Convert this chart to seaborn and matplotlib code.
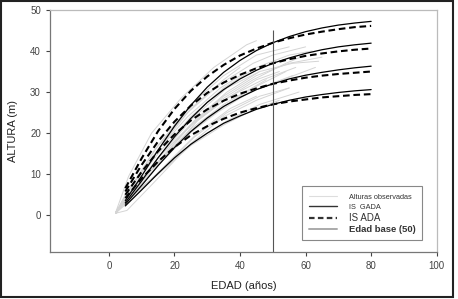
import numpy as np
import pandas as pd
import matplotlib
matplotlib.use("Agg")
import matplotlib.pyplot as plt
from matplotlib.lines import Line2D
from matplotlib.patches import Rectangle
import seaborn as sns

# Edades de las curvas de indice de sitio
edades = [5, 10, 15, 20, 25, 30, 35, 40, 45, 50, 55, 60, 65, 70, 75, 80]

# IS GADA (linea continua), indice de sitio 42, 37, 32, 27 a edad base 50
gada_42 = [3.6, 9.6, 15.9, 21.7, 26.8, 31.2, 34.8, 37.7, 40.1, 42.0, 43.5, 44.7, 45.6, 46.3, 46.8, 47.2]
gada_37 = [3.1, 8.4, 14.0, 19.1, 23.6, 27.5, 30.6, 33.2, 35.3, 37.0, 38.3, 39.4, 40.3, 41.0, 41.5, 41.9]
gada_32 = [2.7, 7.3, 12.1, 16.5, 20.4, 23.7, 26.5, 28.7, 30.6, 32.0, 33.2, 34.1, 34.8, 35.4, 35.9, 36.3]
gada_27 = [2.3, 6.2, 10.2, 14.0, 17.3, 20.0, 22.4, 24.2, 25.8, 27.0, 28.0, 28.8, 29.4, 29.9, 30.3, 30.6]

# IS ADA (linea discontinua)
ada_42 = [6.6, 13.9, 20.5, 25.9, 30.3, 33.8, 36.6, 38.9, 40.6, 42.0, 43.1, 44.0, 44.7, 45.3, 45.8, 46.1]
ada_37 = [5.8, 12.3, 18.0, 22.8, 26.7, 29.8, 32.3, 34.2, 35.8, 37.0, 38.0, 38.8, 39.4, 39.9, 40.3, 40.6]
ada_32 = [5.0, 10.6, 15.6, 19.7, 23.1, 25.8, 27.9, 29.6, 30.9, 32.0, 32.8, 33.5, 34.0, 34.4, 34.7, 35.0]
ada_27 = [4.2, 9.0, 13.1, 16.6, 19.5, 21.7, 23.5, 25.0, 26.1, 27.0, 27.7, 28.2, 28.7, 29.0, 29.3, 29.5]

# Alturas observadas (analisis de tallo): edad y altura por arbol
obs_edad = [
    [2, 6, 13, 22, 32, 42, 45],
    [2, 5.5, 13.5, 25, 35, 45, 55],
    [2, 6, 15, 25, 35, 45, 55, 62],
    [2, 6, 15, 25, 35, 45, 55, 65],
    [2, 7, 16, 26, 36, 46, 56],
    [2, 6, 14, 24, 34, 44, 54],
    [2, 6, 16, 26, 36, 46, 58],
    [2, 5, 15, 25, 35, 45, 52],
    [2, 6, 15, 25, 35, 40],
    [2, 6, 14, 24, 34, 44, 50, 60],
    [2, 5, 13, 23, 33, 43, 53, 63],
    [2, 7, 17, 27, 37, 47, 57],
    [2, 6, 16, 26, 36, 46],
    [2, 7, 17, 27, 37, 45],
    [2, 5, 14, 24, 34, 44, 54, 60],
    [2, 6, 15, 25, 35, 45, 55],
    [2, 6, 15, 25, 35, 48],
    [2, 7, 16, 26, 36, 46, 56, 64],
    [2, 5, 14, 24, 34, 42],
    [2, 6, 16, 26, 36, 46, 55],
    [2, 6, 15, 25, 35, 45, 52],
]
obs_altura = [
    [0.6, 9.5, 20.0, 28.5, 36.0, 41.5, 42.5],
    [0.5, 1.2, 7.8, 17.5, 24.0, 28.0, 31.0],
    [0.5, 5.5, 15.0, 24.0, 31.0, 36.0, 39.0, 40.0],
    [0.5, 5.0, 14.0, 22.0, 29.0, 34.0, 37.0, 38.5],
    [0.5, 5.0, 13.0, 21.0, 27.0, 31.0, 34.0],
    [0.5, 4.5, 12.0, 20.0, 26.0, 31.0, 35.0],
    [0.5, 4.0, 11.0, 18.0, 23.0, 27.0, 30.0],
    [0.5, 3.5, 10.0, 17.0, 22.0, 26.0, 28.0],
    [0.5, 6.0, 16.0, 26.0, 33.0, 36.0],
    [0.5, 6.0, 16.0, 25.0, 32.0, 37.0, 39.0, 41.0],
    [0.5, 4.0, 11.0, 19.0, 25.0, 30.0, 33.0, 36.0],
    [0.5, 5.0, 14.0, 23.0, 29.0, 33.0, 36.0],
    [0.5, 5.0, 14.0, 23.0, 30.0, 35.0],
    [0.5, 4.0, 12.0, 20.0, 26.0, 29.0],
    [0.5, 4.0, 12.0, 21.0, 28.0, 33.0, 37.0, 39.0],
    [0.5, 6.0, 17.0, 27.0, 34.0, 39.0, 41.0],
    [0.5, 4.5, 13.0, 21.0, 27.0, 33.0],
    [0.5, 5.5, 15.0, 24.0, 31.0, 35.0, 37.0, 37.5],
    [0.5, 5.0, 15.0, 24.0, 31.0, 35.0],
    [0.5, 4.0, 11.0, 19.0, 25.0, 29.0, 31.0],
    [0.5, 5.0, 14.0, 22.0, 28.0, 33.0, 35.0],
]

edad_base = 50

# Tabla larga de observaciones
filas = []
for i, (ee, hh) in enumerate(zip(obs_edad, obs_altura)):
    for e, h in zip(ee, hh):
        filas.append({"arbol": i, "edad": e, "altura": h})
obs = pd.DataFrame(filas)

sns.set_style("ticks")
plt.rcParams["font.family"] = ["Liberation Sans", "DejaVu Sans"]

fig = plt.figure(figsize=(4.58, 2.99), dpi=100)
ax = fig.add_axes([0.109, 0.156, 0.8445, 0.811])

sns.lineplot(data=obs, x="edad", y="altura", units="arbol", estimator=None,
             color="#d4d4d4", linewidth=0.7, sort=False, ax=ax)

for serie in [gada_42, gada_37, gada_32, gada_27]:
    sns.lineplot(x=edades, y=serie, color="black", linewidth=0.9, ax=ax)
for serie in [ada_42, ada_37, ada_32, ada_27]:
    sns.lineplot(x=edades, y=serie, color="black", linewidth=1.5,
                 ax=ax).lines[-1].set_dashes((3.2, 1.8))

ax.vlines(edad_base, -9, 45, color="#555555", linewidth=0.8)

ax.set_xlim(-18, 100)
ax.set_ylim(-9, 50)
ax.set_xticks([0, 20, 40, 60, 80, 100])
ax.set_yticks([0, 10, 20, 30, 40, 50])
ax.tick_params(labelsize=7, colors="#444444", length=3, width=0.8)
for lado in ["left", "bottom"]:
    ax.spines[lado].set_color("#777777")
    ax.spines[lado].set_linewidth(0.9)
for lado in ["top", "right"]:
    ax.spines[lado].set_visible(True)
    ax.spines[lado].set_color("#bbbbbb")
    ax.spines[lado].set_linewidth(0.9)

ax.set_xlabel("EDAD (años)", fontsize=8, color="#222222", labelpad=7)
ax.set_ylabel("ALTURA (m)", fontsize=8, color="#222222", labelpad=9)

manijas = [
    Line2D([], [], color="#dddddd", linewidth=0.8),
    Line2D([], [], color="#333333", linewidth=1.0),
    Line2D([], [], color="#333333", linewidth=1.6, dashes=(2.5, 1.5)),
    Line2D([], [], color="#aaaaaa", linewidth=1.4),
]
etiquetas = ["Alturas observadas", "IS  GADA", "IS ADA", "Edad base (50)"]
leg = ax.legend(manijas, etiquetas, loc="upper left", bbox_to_anchor=(0.641, 0.29),
                fancybox=False, framealpha=1, edgecolor="#888888",
                handlelength=3.4, handletextpad=1.4, labelspacing=0.25,
                borderpad=0.8, fontsize=6)
leg.get_frame().set_linewidth(0.8)
tamanos = [5.3, 5.3, 7, 6.8]
for t, s in zip(leg.get_texts(), tamanos):
    t.set_fontsize(s)
    t.set_color("#333333")
leg.get_texts()[3].set_fontweight("bold")

fig.patches.append(Rectangle((0.003, 0.006), 0.985, 0.99, transform=fig.transFigure,
                             fill=False, edgecolor="#222222", linewidth=1.5))

plt.savefig("out.png", dpi=100)
